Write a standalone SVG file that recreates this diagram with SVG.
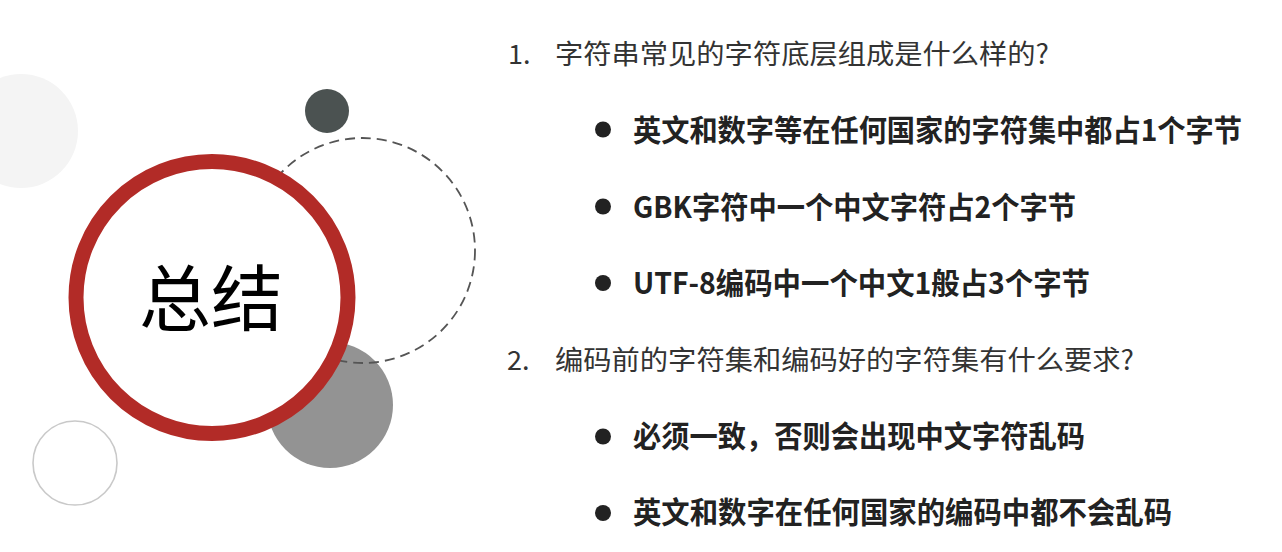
<svg xmlns="http://www.w3.org/2000/svg" width="1282" height="552" viewBox="0 0 1282 552">
  <style>
    .head { font-family: "Noto Sans CJK SC", "Noto Sans", sans-serif; font-size: 27px; fill: #333333; font-weight: 400; }
    .bul { font-family: "Noto Sans CJK SC", "Noto Sans", sans-serif; font-size: 30px; fill: #222222; font-weight: 700; }
    .dot { fill: #222222; }
    .title { font-family: "Noto Sans CJK SC", "Noto Sans", sans-serif; font-size: 72px; fill: #000000; font-weight: 400; }
  </style>
  <rect width="1282" height="552" fill="#ffffff"/>

  <g id="decor">
    <circle id="light-circle" cx="21" cy="131" r="57" fill="#f4f4f4"/>
    <circle id="outline-circle" cx="75" cy="463" r="42" fill="none" stroke="#c9c9c9" stroke-width="1.6"/>
    <circle id="dark-circle" cx="327" cy="111" r="22" fill="#4b5251"/>
    <circle id="gray-circle" cx="330" cy="405" r="63" fill="#939393"/>
    <circle id="dashed-circle" cx="362.5" cy="250.5" r="112.5" fill="none" stroke="#555555" stroke-width="1.8" stroke-dasharray="10 6"/>
  </g>

  <g id="title-node">
    <circle cx="212" cy="297.5" r="136" fill="#ffffff" stroke="#b22b27" stroke-width="15"/>
    <text class="title" x="211" y="325" text-anchor="middle">总结</text>
  </g>

  <g id="q1">
    <text class="head" x="508" y="64">1.</text>
    <text class="head" x="555" y="64" textLength="494" lengthAdjust="spacingAndGlyphs">字符串常见的字符底层组成是什么样的?</text>
  </g>
  <g id="b1">
    <circle class="dot" cx="603" cy="129.5" r="8"/>
    <text class="bul" x="633" y="141" textLength="609" lengthAdjust="spacingAndGlyphs">英文和数字等在任何国家的字符集中都占1个字节</text>
  </g>
  <g id="b2">
    <circle class="dot" cx="603" cy="206.5" r="8"/>
    <text class="bul" x="633" y="218" textLength="443" lengthAdjust="spacingAndGlyphs">GBK字符中一个中文字符占2个字节</text>
  </g>
  <g id="b3">
    <circle class="dot" cx="603" cy="283" r="8"/>
    <text class="bul" x="633" y="294" textLength="457" lengthAdjust="spacingAndGlyphs">UTF-8编码中一个中文1般占3个字节</text>
  </g>
  <g id="q2">
    <text class="head" x="507" y="370">2.</text>
    <text class="head" x="555" y="370" textLength="579" lengthAdjust="spacingAndGlyphs">编码前的字符集和编码好的字符集有什么要求?</text>
  </g>
  <g id="b4">
    <circle class="dot" cx="603" cy="436.5" r="8"/>
    <text class="bul" x="633" y="447" textLength="452" lengthAdjust="spacingAndGlyphs">必须一致，否则会出现中文字符乱码</text>
  </g>
  <g id="b5">
    <circle class="dot" cx="603" cy="513" r="8"/>
    <text class="bul" x="633" y="523" textLength="539" lengthAdjust="spacingAndGlyphs">英文和数字在任何国家的编码中都不会乱码</text>
  </g>

  <g id="connectors"></g>
</svg>
